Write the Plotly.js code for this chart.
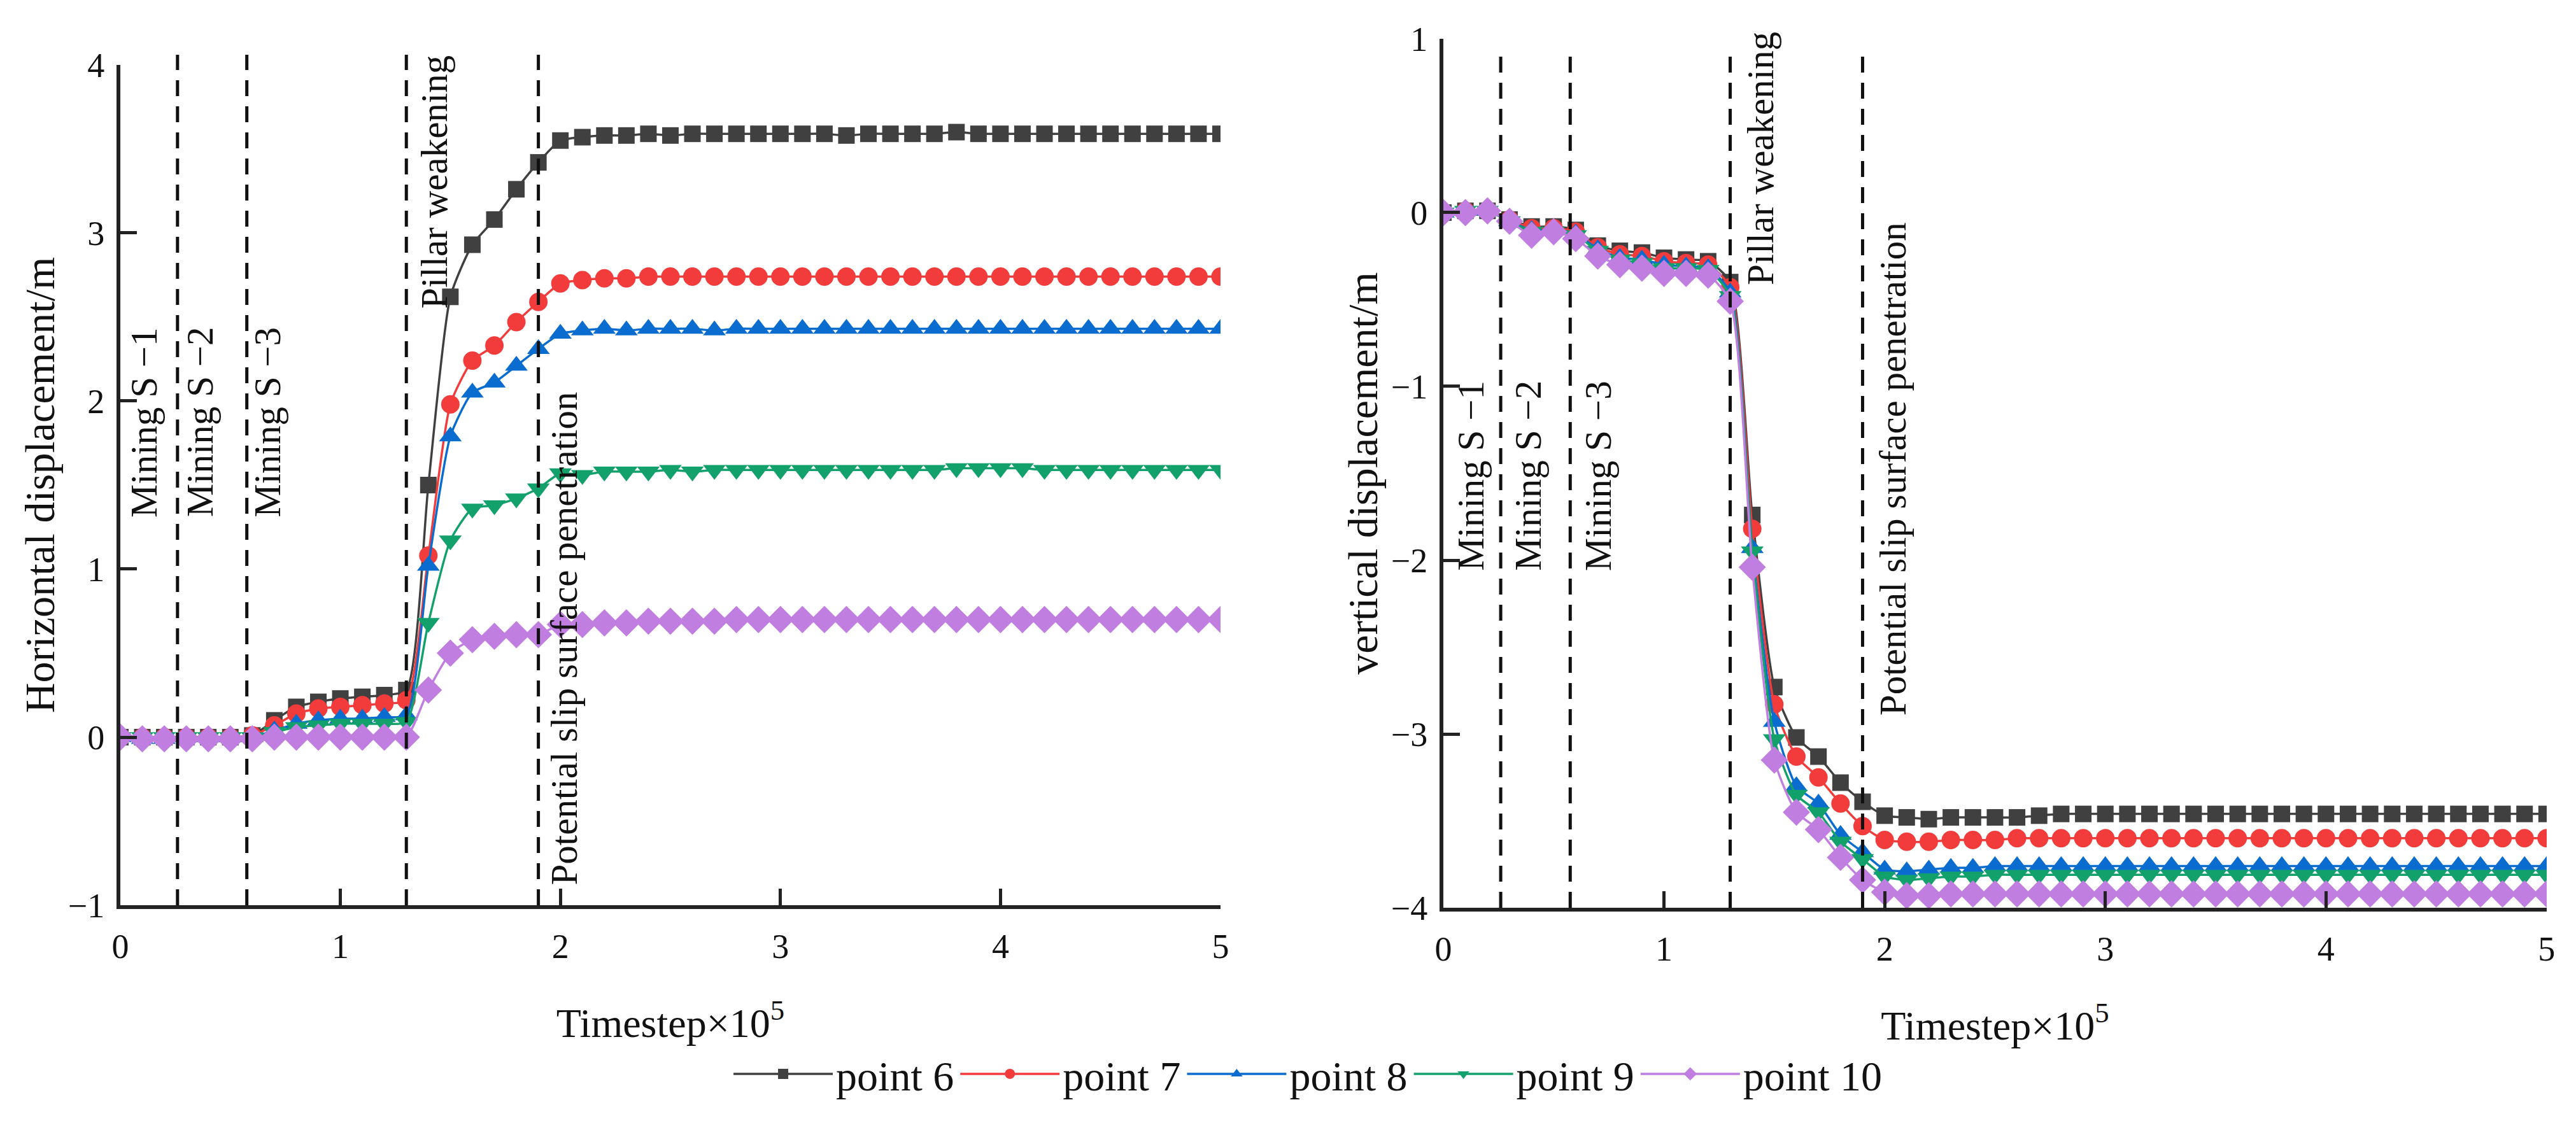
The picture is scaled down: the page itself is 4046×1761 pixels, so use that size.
<!DOCTYPE html>
<html>
<head>
<meta charset="utf-8">
<script src="https://cdn.plot.ly/plotly-3.0.1.min.js"></script>
<style>
  html, body { margin: 0; padding: 0; background: #fff; }
  #chart { width: 4046px; height: 1761px; }
</style>
</head>
<body>
<div id="chart"></div>
<script>
/* ---------------- DATA (timestep x 10^5) ---------------- */
const timestep = [
  0, 0.1, 0.2, 0.3, 0.4, 0.5, 0.6, 0.7, 0.8, 0.9,
  1.0, 1.1, 1.2, 1.3, 1.4, 1.5, 1.6, 1.7, 1.8, 1.9,
  2.0, 2.1, 2.2, 2.3, 2.4, 2.5, 2.6, 2.7, 2.8, 2.9,
  3.0, 3.1, 3.2, 3.3, 3.4, 3.5, 3.6, 3.7, 3.8, 3.9,
  4.0, 4.1, 4.2, 4.3, 4.4, 4.5, 4.6, 4.7, 4.8, 4.9, 5.0
];

const seriesNames = ["point 6", "point 7", "point 8", "point 9", "point 10"];

// horizontal displacement / m
const horiz6 = [
  0, 0, 0, 0, 0, 0, 0.01, 0.1, 0.18, 0.21,
  0.23, 0.24, 0.25, 0.28, 1.5, 2.62, 2.93, 3.08, 3.26, 3.42,
  3.55, 3.57, 3.58, 3.58, 3.59, 3.58, 3.59, 3.59, 3.59, 3.59,
  3.59, 3.59, 3.59, 3.58, 3.59, 3.59, 3.59, 3.59, 3.6, 3.59,
  3.59, 3.59, 3.59, 3.59, 3.59, 3.59, 3.59, 3.59, 3.59, 3.59, 3.59
];
const horiz7 = [
  0, 0, 0, 0, 0, 0, 0.01, 0.07, 0.14, 0.17,
  0.18, 0.19, 0.2, 0.22, 1.08, 1.98, 2.24, 2.33, 2.47, 2.59,
  2.7, 2.72, 2.73, 2.73, 2.74, 2.74, 2.74, 2.74, 2.74, 2.74,
  2.74, 2.74, 2.74, 2.74, 2.74, 2.74, 2.74, 2.74, 2.74, 2.74,
  2.74, 2.74, 2.74, 2.74, 2.74, 2.74, 2.74, 2.74, 2.74, 2.74, 2.74
];
const horiz8 = [
  0, -0.01, -0.01, 0, 0, 0, 0, 0.04, 0.08, 0.1,
  0.11, 0.11, 0.12, 0.13, 1.02, 1.79, 2.05, 2.11, 2.21, 2.31,
  2.4, 2.42, 2.43, 2.42, 2.43, 2.43, 2.43, 2.42, 2.43, 2.43,
  2.43, 2.43, 2.43, 2.43, 2.43, 2.43, 2.43, 2.43, 2.43, 2.43,
  2.43, 2.43, 2.43, 2.43, 2.43, 2.43, 2.43, 2.43, 2.43, 2.43, 2.43
];
const horiz9 = [
  0, 0, 0, 0, 0, 0, 0, 0.03, 0.06, 0.07,
  0.08, 0.08, 0.08, 0.09, 0.68, 1.17, 1.36, 1.38, 1.42, 1.48,
  1.57, 1.56, 1.58, 1.58, 1.58, 1.59, 1.58, 1.59, 1.59, 1.59,
  1.59, 1.59, 1.59, 1.59, 1.59, 1.59, 1.59, 1.59, 1.6, 1.6,
  1.6, 1.6, 1.59, 1.59, 1.59, 1.59, 1.59, 1.59, 1.59, 1.59, 1.59
];
const horiz10 = [
  0, -0.01, -0.01, -0.01, -0.01, -0.01, -0.01, 0, 0, 0,
  0, 0, 0, 0, 0.28, 0.5, 0.58, 0.6, 0.61, 0.61,
  0.67, 0.67, 0.68, 0.68, 0.69, 0.69, 0.69, 0.69, 0.7, 0.7,
  0.7, 0.7, 0.7, 0.7, 0.7, 0.7, 0.7, 0.7, 0.7, 0.7,
  0.7, 0.7, 0.7, 0.7, 0.7, 0.7, 0.7, 0.7, 0.7, 0.7, 0.7
];

// vertical displacement / m
const vert6 = [
  0, 0.01, 0.01, -0.04, -0.08, -0.08, -0.1, -0.19, -0.22, -0.23,
  -0.26, -0.27, -0.28, -0.4, -1.74, -2.73, -3.02, -3.13, -3.28, -3.39,
  -3.47, -3.48, -3.49, -3.48, -3.48, -3.48, -3.48, -3.47, -3.46, -3.46,
  -3.46, -3.46, -3.46, -3.46, -3.46, -3.46, -3.46, -3.46, -3.46, -3.46,
  -3.46, -3.46, -3.46, -3.46, -3.46, -3.46, -3.46, -3.46, -3.46, -3.46, -3.46
];
const vert7 = [
  0, 0.01, 0.01, -0.04, -0.09, -0.09, -0.11, -0.2, -0.24, -0.25,
  -0.28, -0.29, -0.3, -0.43, -1.82, -2.83, -3.13, -3.25, -3.4, -3.53,
  -3.61, -3.62, -3.62, -3.61, -3.61, -3.61, -3.6, -3.6, -3.6, -3.6,
  -3.6, -3.6, -3.6, -3.6, -3.6, -3.6, -3.6, -3.6, -3.6, -3.6,
  -3.6, -3.6, -3.6, -3.6, -3.6, -3.6, -3.6, -3.6, -3.6, -3.6, -3.6
];
const vert8 = [
  0, 0.01, 0.01, -0.05, -0.1, -0.1, -0.12, -0.21, -0.26, -0.27,
  -0.3, -0.31, -0.32, -0.46, -1.93, -2.93, -3.3, -3.4, -3.58, -3.68,
  -3.78, -3.79, -3.78, -3.77, -3.77, -3.76, -3.76, -3.76, -3.76, -3.76,
  -3.76, -3.76, -3.76, -3.76, -3.76, -3.76, -3.76, -3.76, -3.76, -3.76,
  -3.76, -3.76, -3.76, -3.76, -3.76, -3.76, -3.76, -3.76, -3.76, -3.76, -3.76
];
const vert9 = [
  0, 0.01, 0.01, -0.05, -0.11, -0.11, -0.13, -0.22, -0.27, -0.29,
  -0.32, -0.32, -0.33, -0.48, -1.95, -3.03, -3.35, -3.45, -3.62, -3.72,
  -3.82, -3.84, -3.83, -3.82, -3.82, -3.81, -3.81, -3.81, -3.81, -3.81,
  -3.81, -3.81, -3.81, -3.81, -3.81, -3.81, -3.81, -3.81, -3.81, -3.81,
  -3.81, -3.81, -3.81, -3.81, -3.81, -3.81, -3.81, -3.81, -3.81, -3.81, -3.81
];
const vert10 = [
  0, 0, 0.01, -0.05, -0.13, -0.11, -0.15, -0.25, -0.3, -0.32,
  -0.35, -0.35, -0.36, -0.51, -2.04, -3.15, -3.45, -3.55, -3.71, -3.84,
  -3.91, -3.93, -3.93, -3.92, -3.92, -3.92, -3.92, -3.92, -3.92, -3.92,
  -3.92, -3.92, -3.92, -3.92, -3.92, -3.92, -3.92, -3.92, -3.92, -3.92,
  -3.92, -3.92, -3.92, -3.92, -3.92, -3.92, -3.92, -3.92, -3.92, -3.92, -3.92
];

// stage boundaries (timestep x 10^5)
const stageX = [0.26, 0.575, 1.3, 1.9];

/* ---------------- STYLE ---------------- */
const FONT = "Liberation Serif, Times New Roman, serif";
const colors = ["#404040", "#f23c3c", "#0a6ccf", "#12a06b", "#c07ee0"];
const symbols = ["square", "circle", "triangle-up", "triangle-down", "diamond"];
const msize = [26, 29, 31, 31, 33];

const horizSeries = [horiz6, horiz7, horiz8, horiz9, horiz10];
const vertSeries = [vert6, vert7, vert8, vert9, vert10];

function makeTraces(list, xa, ya, legend) {
  return list.map((ys, i) => ({
    x: timestep,
    y: ys,
    xaxis: xa,
    yaxis: ya,
    name: seriesNames[i],
    showlegend: legend,
    mode: "lines+markers",
    line: { color: colors[i], width: 3.5, shape: "spline", smoothing: 0.6 },
    marker: { color: colors[i], symbol: symbols[i], size: msize[i] }
  }));
}

const traces = [
  ...makeTraces(horizSeries, "x", "y", true),
  ...makeTraces(vertSeries, "x2", "y2", false)
];

/* ---------------- LAYOUT ---------------- */
function xAxis(domain, anchor) {
  return {
    domain, anchor,
    range: [0, 5], dtick: 1,
    showgrid: false, zeroline: false,
    showline: true, linecolor: "#222", linewidth: 6,
    ticks: "inside", ticklen: 26, tickwidth: 5, tickcolor: "#222",
    ticklabelstandoff: 12,
    tickfont: { family: FONT, size: 54, color: "#111" },
    title: { text: "Timestep×10<sup>5</sup>", font: { family: FONT, size: 64, color: "#111" }, standoff: 70 }
  };
}
function yAxis(domain, anchor, range, title) {
  return {
    domain, anchor, range, dtick: 1,
    showgrid: false, zeroline: false,
    showline: true, linecolor: "#222", linewidth: 6,
    ticks: "inside", ticklen: 26, tickwidth: 5, tickcolor: "#222",
    ticklabelstandoff: 8,
    tickfont: { family: FONT, size: 54, color: "#111" },
    title: { text: title, font: { family: FONT, size: 66, color: "#111" }, standoff: 2 }
  };
}

const shapes = [];
["x", "x2"].forEach((xa, k) => {
  stageX.forEach(sx => {
    shapes.push({
      type: "line", xref: xa, yref: (k === 0 ? "y" : "y2") + " domain",
      x0: sx, x1: sx, y0: 0, y1: k === 0 ? 1.012 : 0.99,
      line: { color: "#111", width: 5, dash: "25px,16px" }
    });
  });
});

const annFont = { family: FONT, size: 59, color: "#111" };
function label(text, xa, ya, x, y, yanchor) {
  return { text, xref: xa, yref: ya, x, y, textangle: -90,
           xanchor: "center", yanchor, showarrow: false, font: annFont };
}
const annotations = [
  label("Mining S −1", "x", "y", 0.107, 1.3, "bottom"),
  label("Mining S −2", "x", "y", 0.362, 1.3, "bottom"),
  label("Mining S −3", "x", "y", 0.67, 1.3, "bottom"),
  label("Pillar weakening", "x", "y domain", 1.427, 1.013, "top"),
  label("Potential slip surface penetration", "x", "y", 2.017, -0.89, "bottom"),
  label("Mining S −1", "x2", "y2", 0.122, -2.07, "bottom"),
  label("Mining S −2", "x2", "y2", 0.384, -2.07, "bottom"),
  label("Mining S −3", "x2", "y2", 0.70, -2.07, "bottom"),
  label("Pillar weakening", "x2", "y2 domain", 1.437, 1.0095, "top"),
  label("Potential slip surface penetration", "x2", "y2", 2.037, -2.9, "bottom")
];

const layout = {
  width: 4046, height: 1761,
  margin: { l: 0, r: 0, t: 0, b: 0 },
  paper_bgcolor: "#fff", plot_bgcolor: "#fff",
  font: { family: FONT, color: "#111" },
  xaxis: xAxis([0.0467, 0.4738], "y"),
  yaxis: yAxis([0.1925, 0.9421], "x", [-1, 4], "Horizontal displacement/m"),
  xaxis2: xAxis([0.5603, 0.9886], "y2"),
  yaxis2: yAxis([0.1902, 0.9654], "x2", [-4, 1], "vertical displacement/m"),
  shapes, annotations,
  showlegend: true,
  legend: {
    orientation: "h", x: 0.2835, xanchor: "left", y: 0.042, yanchor: "middle",
    font: { family: FONT, size: 66, color: "#111" },
    itemwidth: 156, tracegroupgap: 0, bgcolor: "rgba(0,0,0,0)"
  }
};

Plotly.newPlot("chart", traces, layout, { displayModeBar: false, staticPlot: true });
</script>
</body>
</html>
